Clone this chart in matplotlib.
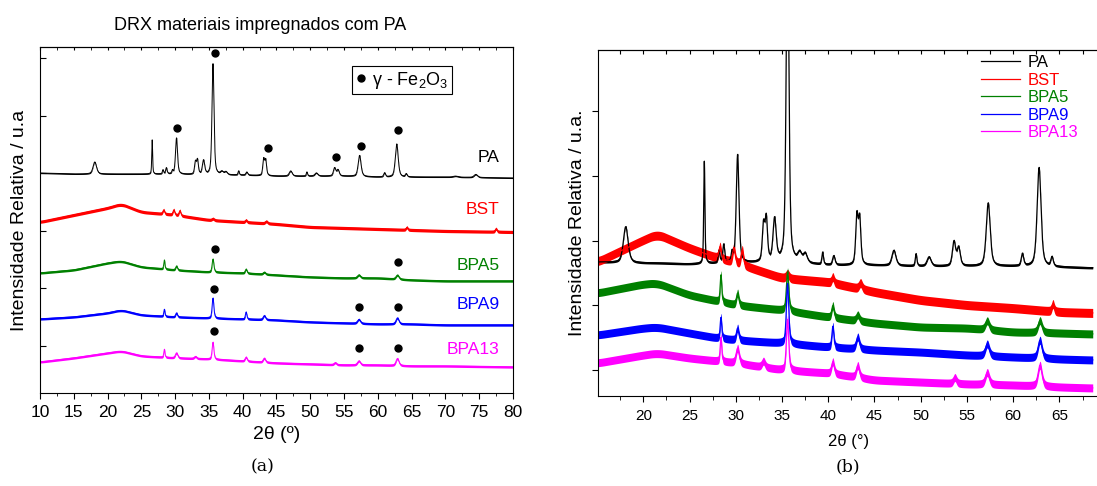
import numpy as np
import matplotlib.pyplot as plt
from matplotlib.lines import Line2D
from matplotlib.ticker import MultipleLocator, FixedLocator

plt.rcParams['font.family'] = ['Liberation Sans', 'DejaVu Sans']
plt.rcParams['mathtext.fontset'] = 'custom'
plt.rcParams['mathtext.rm'] = 'Liberation Sans'
plt.rcParams['mathtext.it'] = 'Liberation Sans:italic'

samples = ['PA', 'BST', 'BPA5', 'BPA9', 'BPA13']
colors = ['black', 'red', 'green', 'blue', 'magenta']

# peaks: position (2theta), height (panel a units), FWHM
pa_pos = [18.1, 26.6, 28.2, 28.7, 29.6, 30.2, 33.0, 33.3, 34.2, 35.6, 36.9, 37.5,
          39.4, 40.6, 43.1, 43.4, 47.1, 49.5, 50.9, 53.6, 54.1, 57.3, 61.0, 62.8,
          64.2, 71.5, 74.5]
pa_amp = [12, 34, 4, 6, 3, 36, 12, 14, 14, 111, 3, 3,
          4, 3, 16, 15, 5, 4, 3, 8, 6, 21, 4, 33,
          3, 1, 3]
pa_wid = [0.6, 0.15, 0.2, 0.25, 0.2, 0.35, 0.3, 0.3, 0.4, 0.35, 0.5, 0.5,
          0.2, 0.3, 0.3, 0.3, 0.5, 0.2, 0.5, 0.4, 0.4, 0.5, 0.3, 0.5,
          0.3, 0.8, 0.6]

bst_pos = [28.3, 29.8, 30.7, 35.6, 40.5, 43.5, 64.3, 77.5]
bst_amp = [4, 5, 5, 1.5, 2, 2, 2.5, 3]
bst_wid = [0.3, 0.3, 0.3, 0.4, 0.3, 0.4, 0.3, 0.3]

bpa5_pos = [28.4, 30.2, 35.6, 40.5, 43.2, 57.2, 62.9]
bpa5_amp = [9, 4, 13, 4, 2, 3, 4]
bpa5_wid = [0.2, 0.3, 0.3, 0.3, 0.4, 0.5, 0.5]

bpa9_pos = [28.4, 30.2, 35.6, 40.5, 43.2, 57.2, 62.9]
bpa9_amp = [7, 4, 20, 7, 4, 4, 6]
bpa9_wid = [0.2, 0.3, 0.3, 0.25, 0.4, 0.5, 0.5]

bpa13_pos = [28.4, 30.2, 33.0, 35.6, 40.5, 43.2, 53.7, 57.2, 62.9]
bpa13_amp = [8, 5, 2, 17, 4, 4, 2, 4, 7]
bpa13_wid = [0.2, 0.4, 0.4, 0.3, 0.35, 0.4, 0.4, 0.5, 0.5]

# background levels, panel (a)
base_xa = [10, 15, 20, 22, 25, 30, 35, 40, 45, 50, 55, 60, 65, 70, 80]
pa_base_a = [220, 219, 219, 219, 219, 219, 218, 218, 217, 217, 217, 216, 216, 216, 215]
bst_base_a = [171, 178, 185, 189, 181, 178, 173, 171, 169, 166, 165, 164, 163, 162, 161]
bpa5_base_a = [120, 123, 130, 132, 126, 123, 121, 120, 118, 116, 115, 115, 113, 112, 112]
bpa9_base_a = [74, 76, 80, 83, 78, 76, 75, 74, 73, 71, 70, 69, 69, 68, 68]
bpa13_base_a = [31, 35, 40, 42, 37, 35, 34, 32, 30, 29, 28, 28, 27, 27, 26]

# background levels, panel (b)
base_xb = [15, 20, 21.5, 25, 28, 30, 35, 40, 45, 50, 55, 60, 65, 69]
pa_base_b = [134, 133, 133, 132, 133, 133, 134, 131, 131, 130, 130, 130, 129, 128]
bst_base_b = [134, 156, 162, 148, 138, 133, 118, 114, 104, 96, 91, 88, 84, 83]
bpa5_base_b = [103, 112, 113, 101, 95, 91, 86, 79, 73, 69, 68, 64, 63, 62]
bpa9_base_b = [61, 68, 69, 63, 58, 56, 53, 49, 46, 44, 41, 39, 37, 36]
bpa13_base_b = [33, 41, 43, 38, 35, 33, 26, 23, 16, 14, 12, 11, 9, 8]

# gamma-Fe2O3 markers, panel (a)
dot_x = [35.9, 30.3, 43.7, 53.8, 57.5, 63.0, 35.9, 63.0, 35.7, 57.2, 63.0, 35.7, 57.2, 63.0]
dot_y = [340, 265, 245, 236, 247, 263, 144, 131, 104, 86, 86, 62, 45, 45]

peaks = [(pa_pos, pa_amp, pa_wid), (bst_pos, bst_amp, bst_wid),
         (bpa5_pos, bpa5_amp, bpa5_wid), (bpa9_pos, bpa9_amp, bpa9_wid),
         (bpa13_pos, bpa13_amp, bpa13_wid)]
bases_a = [pa_base_a, bst_base_a, bpa5_base_a, bpa9_base_a, bpa13_base_a]
bases_b = [pa_base_b, bst_base_b, bpa5_base_b, bpa9_base_b, bpa13_base_b]
label_y_a = [235, 183, 127, 88, 43]


def profile(x, pos, amp, wid):
    y = np.zeros_like(x)
    for p, a, w in zip(pos, amp, wid):
        u = (x - p) / (w / 2)
        y += a * (0.5 / (1 + u ** 2) + 0.5 * np.exp(-np.log(2) * u ** 2))
    return y


def background(x, bx, by, n=80):
    # piecewise background, rounded off with a moving average
    y = np.interp(x, bx, by)
    pad = np.concatenate([np.full(n, y[0]), y, np.full(n, y[-1])])
    k = np.ones(2 * n + 1) / (2 * n + 1)
    return np.convolve(pad, k, mode='same')[n:-n]


x = np.linspace(10, 80, 7001)

fig = plt.figure(figsize=(10.97, 4.86), dpi=100)
axa = fig.add_axes([0.0365, 0.1914, 0.4311, 0.7119])
axb = fig.add_axes([0.5451, 0.185, 0.4569, 0.7120])

# panel (a)
band_a = [0.6, 1.6, 1.2, 1.2, 1.2]
for i, s in enumerate(samples):
    y = background(x, base_xa, bases_a[i]) + profile(x, *peaks[i])
    axa.fill_between(x, y - band_a[i], y + band_a[i], color=colors[i], lw=0)
    axa.plot(x, y, color=colors[i], lw=0.7)
    axa.text(78, label_y_a[i], s, color=colors[i], fontsize=12.5, ha='right', va='center')
axa.plot(dot_x, dot_y, 'o', color='black', markersize=5)
axa.set_xlim(10, 80)
axa.set_ylim(0, 346)
axa.xaxis.set_major_locator(MultipleLocator(5))
axa.xaxis.set_minor_locator(MultipleLocator(2.5))
axa.yaxis.set_major_locator(FixedLocator(np.arange(47, 346, 57.6)))
axa.set_yticklabels([])
axa.tick_params(axis='x', which='major', direction='out', labelsize=12.5, length=4, pad=5)
axa.tick_params(axis='x', which='minor', direction='out', length=2.5)
axa.tick_params(axis='y', which='both', direction='in', length=4)
sec = axa.secondary_xaxis('top')
sec.xaxis.set_major_locator(MultipleLocator(5))
sec.xaxis.set_minor_locator(MultipleLocator(2.5))
sec.tick_params(which='both', direction='in', labeltop=False, length=2.5)
axa.set_xlabel('2θ (º)', fontsize=14, labelpad=4)
axa.set_ylabel('Intensidade Relativa / u.a', fontsize=14, labelpad=5)
axa.set_title('DRX materiais impregnados com PA', fontsize=13, pad=12, x=0.465)
h = Line2D([], [], marker='o', color='black', lw=0, markersize=5)
leg = axa.legend([h], ['γ - Fe$_2$O$_3$'], loc='upper left', bbox_to_anchor=(0.66, 0.945),
                 fontsize=13, fancybox=False, framealpha=1, edgecolor='black',
                 handlelength=0.6, handletextpad=0.3, borderpad=0.2, borderaxespad=0)
leg.get_frame().set_linewidth(0.8)

# panel (b)
xb = x[(x >= 15) & (x <= 68.6)]
band_b = [1.2, 4.5, 4, 4, 4]
for i, s in enumerate(samples):
    y = background(xb, base_xb, bases_b[i]) + 3.0 * profile(xb, *peaks[i])
    axb.fill_between(xb, y - band_b[i], y + band_b[i], color=colors[i], lw=0)
    axb.plot(xb, y, color=colors[i], lw=0.9, label=s)
axb.set_xlim(15.1, 69.3)
axb.set_ylim(0, 346)
axb.xaxis.set_major_locator(MultipleLocator(5))
axb.xaxis.set_minor_locator(MultipleLocator(2.5))
axb.yaxis.set_major_locator(FixedLocator(np.arange(26, 346, 64.75)))
axb.set_yticklabels([])
axb.tick_params(axis='x', which='major', direction='out', labelsize=11, length=4, pad=5)
axb.tick_params(axis='x', which='minor', direction='out', length=3)
axb.tick_params(axis='y', direction='out', length=4)
axb.spines['right'].set_visible(False)
secb = axb.secondary_xaxis('top')
secb.xaxis.set_major_locator(MultipleLocator(2.5))
secb.tick_params(direction='in', labeltop=False, length=3)
axb.set_xlabel('2θ (°)', fontsize=12, labelpad=8)
axb.set_ylabel('Intensidade Relativa / u.a.', fontsize=14, labelpad=1)
legb = axb.legend(loc='upper left', bbox_to_anchor=(0.755, 1.0), frameon=False, fontsize=12,
                  handlelength=2.3, handletextpad=0.45, labelspacing=0.15, borderaxespad=0,
                  borderpad=0.3)
for t, c in zip(legb.get_texts(), colors):
    t.set_color(c)

fig.text(0.239, 0.03, '(a)', family='DejaVu Serif', fontsize=12.5, ha='center')
fig.text(0.773, 0.03, '(b)', family='DejaVu Serif', fontsize=12.5, ha='center')

fig.savefig('out.png', dpi=100)
